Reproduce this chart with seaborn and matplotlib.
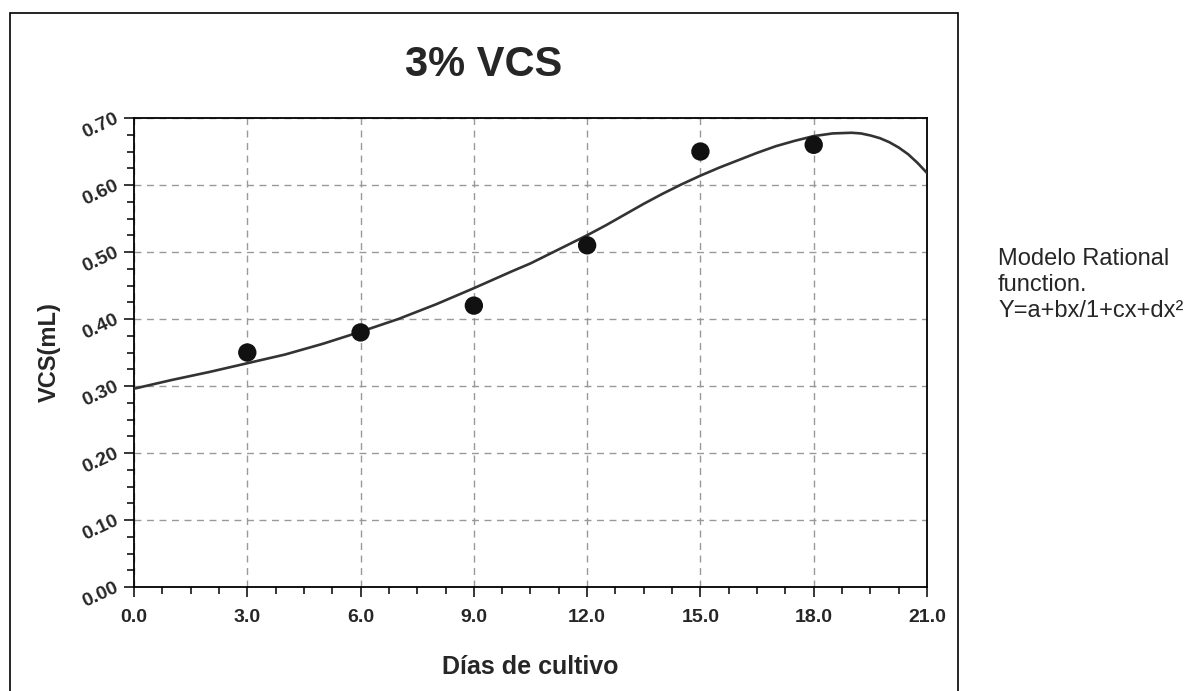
import matplotlib
matplotlib.use('Agg')
import matplotlib.pyplot as plt
from matplotlib.patches import Rectangle
from matplotlib.ticker import MultipleLocator, FormatStrFormatter
import seaborn as sns
import pandas as pd

# Measured points (days of culture vs VCS)
dias = [3, 6, 9, 12, 15, 18]
vcs = [0.35, 0.38, 0.42, 0.51, 0.65, 0.66]

# Fitted curve
curva_x = [0, 1, 2, 3, 4, 5, 6, 7, 8, 9, 10, 10.5, 11, 11.5, 12, 12.5, 13,
           13.5, 14, 14.5, 15, 15.5, 16, 16.5, 17, 17.5, 18, 18.5, 19, 19.25,
           19.5, 19.75, 20, 20.25, 20.5, 20.75, 21]
curva_y = [0.296, 0.309, 0.321, 0.334, 0.347, 0.363, 0.381, 0.400, 0.422,
           0.446, 0.471, 0.483, 0.497, 0.511, 0.525, 0.540, 0.556, 0.572,
           0.587, 0.601, 0.614, 0.626, 0.637, 0.648, 0.658, 0.666, 0.673,
           0.677, 0.678, 0.677, 0.674, 0.670, 0.664, 0.656, 0.646, 0.633,
           0.618]

puntos = pd.DataFrame({'dias': dias, 'vcs': vcs})
curva = pd.DataFrame({'x': curva_x, 'y': curva_y})

sns.set_style('white')
plt.rcParams['font.family'] = ['Liberation Sans', 'DejaVu Sans']

fig = plt.figure(figsize=(11.86, 6.91), dpi=100)
ax = fig.add_axes([0.1130, 0.1505, 0.6686, 0.6787])

sns.lineplot(data=curva, x='x', y='y', ax=ax, color='#333333', linewidth=1.9,
             zorder=3, solid_joinstyle='round', solid_capstyle='round')
sns.scatterplot(data=puntos, x='dias', y='vcs', ax=ax, color='#111111', s=175,
                edgecolor='none', zorder=4)

ax.set_xlim(0, 21)
ax.set_ylim(0, 0.70)
ax.xaxis.set_major_locator(MultipleLocator(3))
ax.xaxis.set_minor_locator(MultipleLocator(0.75))
ax.yaxis.set_major_locator(MultipleLocator(0.1))
ax.yaxis.set_minor_locator(MultipleLocator(0.025))
ax.xaxis.set_major_formatter(FormatStrFormatter('%.1f'))
ax.yaxis.set_major_formatter(FormatStrFormatter('%.2f'))

ax.grid(True, which='major', linestyle=(0, (5, 4)), color='#999999',
        linewidth=1)
ax.set_axisbelow(True)
for s in ax.spines.values():
    s.set_color('black')
    s.set_linewidth(1.3)

ax.tick_params(which='major', direction='out', length=7.5, width=1.1,
               color='black', bottom=True, left=True)
ax.tick_params(which='minor', direction='out', length=5, width=1.1,
               color='black', bottom=True, left=True)
ax.tick_params(axis='x', which='major', pad=8, labelsize=14)
ax.tick_params(axis='y', which='major', pad=4, labelsize=14)
for lab in ax.get_xticklabels():
    lab.set_fontweight('bold')
for lab in ax.get_yticklabels():
    lab.set_fontweight('bold')
    lab.set_rotation(25)
    lab.set_rotation_mode('anchor')
    lab.set_ha('right')
    lab.set_va('center')

ax.set_xlabel('Días de cultivo', fontsize=18, fontweight='bold')
ax.set_ylabel('VCS(mL)', fontsize=17, fontweight='bold')
ax.xaxis.set_label_coords(0.5, -0.146)
ax.yaxis.set_label_coords(-0.092, 0.5)

fig.text(0.408, 0.906, '3% VCS', fontsize=30, fontweight='bold',
         ha='center', va='center')
fig.text(0.8415, 0.5875, 'Modelo Rational\nfunction.\nY=a+bx/1+cx+dx²',
         fontsize=17, ha='left', va='center', linespacing=1.25)

fig.patches.append(Rectangle((0.0084, -0.01), 0.7994, 0.9912, fill=False,
                             edgecolor='black', linewidth=1.2,
                             transform=fig.transFigure))

plt.savefig('out.png', dpi=100)
plt.close()
